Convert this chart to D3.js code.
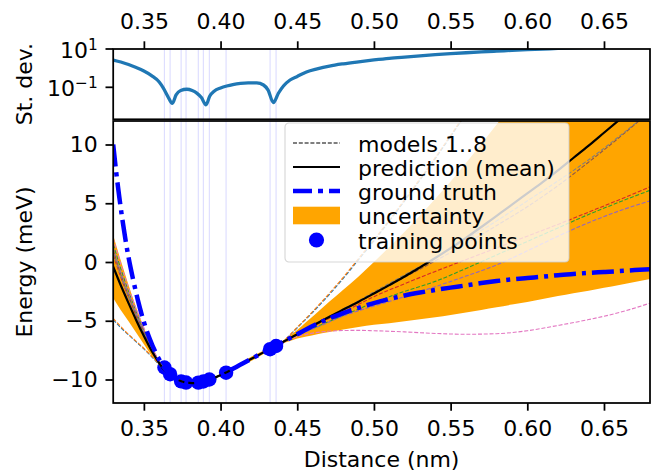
<!DOCTYPE html>
<html>
<head>
<meta charset="utf-8">
<script src="https://cdn.jsdelivr.net/npm/d3@7"></script>
<style>
  body { margin: 0; background: #fff; }
  svg { display: block; }
  text { font-family: "DejaVu Sans", sans-serif; fill: #000; }
</style>
</head>
<body>
<svg id="chart" width="659" height="475"></svg>
<script>
// ---- data -------------------------------------------------------------
// common sampling grid for the ensemble mean and its standard deviation
const gridX = [0.330,0.335,0.340,0.345,0.350,0.355,0.360,0.3627,0.3655,0.3686,0.3710,0.3740,0.3780,0.3815,0.3845,0.3875,0.3905,0.3930,0.3960,0.4000,0.4040,0.4080,0.4130,0.4180,0.4236,0.4280,0.4310,0.4344,0.4377,0.4410,0.4453,0.450,0.456,0.463,0.471,0.480,0.490,0.500,0.510,0.520,0.530,0.540,0.550,0.560,0.570,0.580,0.590,0.600,0.610,0.620,0.630,0.640,0.650,0.660,0.670,0.680];
const meanE = [-0.40,-2.00,-3.50,-4.95,-6.30,-7.55,-8.60,-9.10,-9.45,-9.75,-9.93,-10.13,-10.27,-10.31,-10.29,-10.21,-10.10,-10.00,-9.86,-9.62,-9.38,-9.10,-8.74,-8.39,-8.00,-7.69,-7.48,-7.25,-7.02,-6.79,-6.48,-6.15,-5.72,-5.22,-4.66,-4.05,-3.38,-2.68,-1.97,-1.24,-0.46,0.34,1.18,2.06,2.98,3.93,4.88,5.84,6.80,7.80,8.85,9.90,11.00,12.10,13.20,14.35];
const stdE = [2.67,2.10,1.55,1.08,0.71,0.41,0.19,0.091,0.035,0.0145,0.040,0.068,0.079,0.068,0.050,0.029,0.012,0.035,0.065,0.092,0.117,0.14,0.162,0.172,0.172,0.132,0.072,0.016,0.049,0.117,0.24,0.37,0.63,0.92,1.29,1.69,2.15,2.67,3.25,3.81,4.42,5.04,5.68,6.36,7.06,7.78,8.50,9.24,9.95,10.7,11.5,12.35,13.2,14.05,14.9,15.8];

// reference (ground truth) energy curve
const truthX = [0.330,0.332,0.334,0.336,0.338,0.340,0.343,0.346,0.350,0.354,0.358,0.362,0.366,0.370,0.375,0.380,0.385,0.390,0.395,0.400,0.405,0.410,0.415,0.420,0.425,0.430,0.435,0.440,0.445,0.450,0.460,0.470,0.480,0.490,0.500,0.510,0.520,0.530,0.540,0.550,0.560,0.570,0.580,0.590,0.600,0.610,0.620,0.630,0.640,0.650,0.660,0.670,0.680];
const truthE = [10.0,7.6,5.5,3.6,1.9,0.4,-1.5,-3.2,-5.1,-6.6,-7.8,-8.75,-9.45,-9.9,-10.2,-10.32,-10.28,-10.12,-9.9,-9.62,-9.3,-8.95,-8.6,-8.25,-7.9,-7.55,-7.2,-6.85,-6.5,-6.15,-5.45,-4.85,-4.35,-3.9,-3.5,-3.15,-2.85,-2.6,-2.38,-2.18,-1.99,-1.79,-1.62,-1.48,-1.36,-1.25,-1.12,-1.02,-0.93,-0.85,-0.77,-0.69,-0.62];

// training set
const trainX = [0.3634,0.3671,0.3743,0.3775,0.3855,0.3888,0.3927,0.4036,0.4323,0.4362];
const trainE = [-8.98,-9.55,-10.16,-10.26,-10.27,-10.17,-10.0,-9.42,-7.42,-7.15];

// the eight ensemble members
const modelX = [0.330,0.335,0.340,0.345,0.350,0.355,0.360,0.365,0.370,0.380,0.390,0.400,0.410,0.420,0.430,0.440,0.450,0.460,0.470,0.480,0.490,0.500,0.520,0.540,0.560,0.580,0.600,0.620,0.640,0.660,0.680];
const model1 = [-4.9,-5.6,-6.2,-6.8,-7.4,-8.05,-8.75,-9.45,-9.88,-10.3,-10.13,-9.63,-8.96,-8.26,-7.56,-6.85,-5.6,-4.3,-2.9,-1.4,0.2,1.8,5.2,8.8,12.6,16.5,20.5,24.6,28.8,33.1,37.5];
const model2 = [-4.8,-5.5,-6.15,-6.75,-7.35,-8.0,-8.7,-9.43,-9.87,-10.3,-10.13,-9.63,-8.96,-8.26,-7.55,-6.83,-5.55,-4.22,-2.8,-1.3,0.3,1.9,5.3,8.9,12.7,16.6,20.6,24.7,28.9,33.2,37.6];
const model3 = [1.5,-0.6,-2.5,-4.2,-5.8,-7.2,-8.5,-9.42,-9.86,-10.31,-10.12,-9.62,-8.95,-8.25,-7.55,-6.87,-6.2,-5.65,-5.1,-4.55,-4.0,-3.45,-2.5,-1.65,-0.55,0.6,1.75,2.9,4.05,5.1,6.1];
const model4 = [0.6,-1.3,-3.0,-4.6,-6.0,-7.35,-8.6,-9.44,-9.86,-10.3,-10.12,-9.62,-8.95,-8.25,-7.54,-6.84,-6.15,-5.5,-4.85,-4.25,-3.6,-2.95,-1.85,-0.8,0.2,1.2,2.2,3.2,4.25,5.3,6.4];
const model5 = [1.2,-0.9,-2.7,-4.35,-5.9,-7.3,-8.55,-9.43,-9.85,-10.3,-10.12,-9.62,-8.95,-8.25,-7.55,-6.87,-6.25,-5.7,-5.15,-4.6,-4.15,-3.75,-2.95,-2.1,-1.2,-0.25,0.95,2.2,3.35,4.35,5.2];
const model6 = [1.0,-1.1,-2.9,-4.5,-6.0,-7.35,-8.6,-9.43,-9.86,-10.3,-10.12,-9.62,-8.95,-8.25,-7.54,-6.84,-6.2,-5.5,-4.8,-4.1,-3.4,-2.7,-1.3,0.1,1.55,3.1,4.7,6.5,8.5,10.6,12.8];
const model7 = [2.0,-0.2,-2.2,-4.0,-5.6,-7.1,-8.45,-9.41,-9.85,-10.31,-10.12,-9.62,-8.95,-8.25,-7.56,-6.9,-6.35,-6.05,-5.9,-5.83,-5.82,-5.85,-5.95,-6.08,-6.15,-6.1,-5.85,-5.4,-4.9,-4.3,-3.5];
const model8 = [0.8,-1.2,-3.0,-4.6,-6.1,-7.4,-8.62,-9.44,-9.86,-10.3,-10.12,-9.62,-8.95,-8.25,-7.54,-6.84,-6.15,-5.4,-4.7,-4.0,-3.3,-2.55,-1.1,0.35,1.9,3.5,5.2,6.9,8.7,10.7,12.8];
const models = [model1, model2, model3, model4, model5, model6, model7, model8];
const modelColors = ["#1f77b4","#ff7f0e","#2ca02c","#d62728","#9467bd","#8c564b","#e377c2","#7f7f7f"];

// tick labels
const xTicks = [0.35,0.40,0.45,0.50,0.55,0.60,0.65];
const eTicks = [-10,-5,0,5,10];
const sTicks = [{v: 10, base: "10", sup: "1"}, {v: 0.1, base: "10", sup: "\u22121"}];
const legendLabels = ["models 1..8","prediction (mean)","ground truth","uncertainty","training points"];

// ---- layout -----------------------------------------------------------
const svg = d3.select("#chart");
const W = 659, H = 475;
svg.append("rect").attr("width", W).attr("height", H).attr("fill", "#fff");

const L = 113.2, R = 650;
const topT = 49, topB = 119.3;
const botT = 121, botB = 403;
const FS = 22, TICK = 7.7, SPINE = 1.76;

const x = d3.scaleLinear().domain([0.33, 0.68]).range([L, R]);
const yS = d3.scaleLog().domain([Math.pow(10, -2.67), 10]).range([topB, topT]);
const yE = d3.scaleLinear().domain([-12, 12]).range([botB, botT]);

const defs = svg.append("defs");
defs.append("clipPath").attr("id", "clipTop").append("rect")
  .attr("x", L).attr("y", topT).attr("width", R - L).attr("height", topB - topT);
defs.append("clipPath").attr("id", "clipBot").append("rect")
  .attr("x", L).attr("y", botT).attr("width", R - L).attr("height", botB - botT);

const curve = d3.curveMonotoneX;

// ---- top panel: standard deviation of the ensemble --------------------
const gTop = svg.append("g").attr("clip-path", "url(#clipTop)");
gTop.selectAll("line.train").data(trainX).join("line")
  .attr("x1", d => x(d)).attr("x2", d => x(d))
  .attr("y1", topT).attr("y2", topB)
  .attr("stroke", "blue").attr("stroke-opacity", 0.13).attr("stroke-width", 1.2);
gTop.append("path")
  .datum(gridX.map((v, i) => [v, stdE[i]]))
  .attr("fill", "none").attr("stroke", "#1f77b4").attr("stroke-width", 3.3)
  .attr("stroke-linejoin", "round")
  .attr("d", d3.line().x(d => x(d[0])).y(d => yS(d[1])).curve(curve));

// ---- bottom panel: energy ---------------------------------------------
const gBot = svg.append("g").attr("clip-path", "url(#clipBot)");
gBot.selectAll("line.train").data(trainX).join("line")
  .attr("x1", d => x(d)).attr("x2", d => x(d))
  .attr("y1", botT).attr("y2", botB)
  .attr("stroke", "blue").attr("stroke-opacity", 0.13).attr("stroke-width", 1.2);

// uncertainty band: mean ± std
gBot.append("path")
  .datum(gridX.map((v, i) => ({x: v, lo: meanE[i] - stdE[i], hi: meanE[i] + stdE[i]})))
  .attr("fill", "orange")
  .attr("d", d3.area().x(d => x(d.x)).y0(d => yE(d.lo)).y1(d => yE(d.hi)).curve(curve));

// training points
gBot.selectAll("circle.pt").data(trainX.map((v, i) => [v, trainE[i]])).join("circle")
  .attr("cx", d => x(d[0])).attr("cy", d => yE(d[1])).attr("r", 7.2).attr("fill", "blue");

// ensemble members
models.forEach((m, k) => {
  gBot.append("path")
    .datum(modelX.map((v, i) => [v, m[i]]))
    .attr("fill", "none").attr("stroke", modelColors[k]).attr("stroke-width", 1.1)
    .attr("stroke-dasharray", "4,1.8")
    .attr("d", d3.line().x(d => x(d[0])).y(d => yE(d[1])).curve(curve));
});

// ensemble mean
gBot.append("path")
  .datum(gridX.map((v, i) => [v, meanE[i]]))
  .attr("fill", "none").attr("stroke", "#000").attr("stroke-width", 2.2)
  .attr("d", d3.line().x(d => x(d[0])).y(d => yE(d[1])).curve(curve));

// ground truth
gBot.append("path")
  .datum(truthX.map((v, i) => [v, truthE[i]]))
  .attr("fill", "none").attr("stroke", "blue").attr("stroke-width", 4.5)
  .attr("stroke-dasharray", "22,6,4,6")
  .attr("d", d3.line().x(d => x(d[0])).y(d => yE(d[1])).curve(curve));

// ---- axes --------------------------------------------------------------
const fmtX = d3.format(".2f");
const fmtE = d => d < 0 ? "\u2212" + Math.abs(d) : String(d);

function styleAxis(g) {
  g.select(".domain").remove();
  g.selectAll(".tick line").attr("stroke", "#000").attr("stroke-width", 1.76);
  g.selectAll(".tick text").attr("font-size", FS).attr("font-family", "DejaVu Sans, sans-serif").attr("fill", "#000");
}

svg.append("g").attr("transform", `translate(0,${topT})`)
  .call(d3.axisTop(x).tickValues(xTicks).tickFormat(fmtX).tickSize(TICK).tickPadding(12.7))
  .call(styleAxis);

svg.append("g").attr("transform", `translate(0,${botB})`)
  .call(d3.axisBottom(x).tickValues(xTicks).tickFormat(fmtX).tickSize(TICK).tickPadding(9.5))
  .call(styleAxis);

svg.append("g").attr("transform", `translate(${L},0)`)
  .call(d3.axisLeft(yE).tickValues(eTicks).tickFormat(fmtE).tickSize(TICK).tickPadding(7.7))
  .call(styleAxis);

// log-axis ticks with superscript exponents
const gS = svg.append("g");
sTicks.forEach(t => {
  const yy = yS(t.v);
  gS.append("line").attr("x1", L - TICK).attr("x2", L).attr("y1", yy).attr("y2", yy)
    .attr("stroke", "#000").attr("stroke-width", 1.76);
  const txt = gS.append("text").attr("x", L - TICK - 7.7).attr("y", yy + 8.5)
    .attr("text-anchor", "end").attr("font-size", FS);
  txt.append("tspan").text(t.base);
  txt.append("tspan").attr("dy", -8).attr("font-size", FS * 0.7).text(t.sup);
});

// frames
svg.append("rect").attr("x", L).attr("y", topT).attr("width", R - L).attr("height", topB - topT)
  .attr("fill", "none").attr("stroke", "#000").attr("stroke-width", SPINE);
svg.append("rect").attr("x", L).attr("y", botT).attr("width", R - L).attr("height", botB - botT)
  .attr("fill", "none").attr("stroke", "#000").attr("stroke-width", SPINE);

// axis titles
svg.append("text").attr("x", (L + R) / 2).attr("y", 467).attr("text-anchor", "middle")
  .attr("font-size", FS).text("Distance (nm)");
svg.append("text").attr("transform", `translate(32,${(botT + botB) / 2}) rotate(-90)`)
  .attr("text-anchor", "middle").attr("font-size", FS).text("Energy (meV)");
svg.append("text").attr("transform", `translate(32,${(topT + topB) / 2}) rotate(-90)`)
  .attr("text-anchor", "middle").attr("font-size", FS).text("St. dev.");

// ---- legend ------------------------------------------------------------
const lg = svg.append("g").attr("transform", "translate(285,123)");
lg.append("rect").attr("width", 284).attr("height", 139).attr("rx", 4)
  .attr("fill", "#fff").attr("fill-opacity", 0.8)
  .attr("stroke", "#ccc").attr("stroke-opacity", 0.8).attr("stroke-width", 1.1);
const rowY = [20, 44, 68, 92.5, 117];
const hx0 = 8, hx1 = 55;
lg.append("line").attr("x1", hx0).attr("x2", hx1).attr("y1", rowY[0]).attr("y2", rowY[0])
  .attr("stroke", "#000").attr("stroke-width", 1.1).attr("stroke-dasharray", "4,1.8");
lg.append("line").attr("x1", hx0).attr("x2", hx1).attr("y1", rowY[1]).attr("y2", rowY[1])
  .attr("stroke", "#000").attr("stroke-width", 2.2);
lg.append("line").attr("x1", hx0).attr("x2", hx1).attr("y1", rowY[2]).attr("y2", rowY[2])
  .attr("stroke", "blue").attr("stroke-width", 4.5).attr("stroke-dasharray", "19,6,5,6");
lg.append("rect").attr("x", hx0).attr("y", rowY[3] - 8.8).attr("width", hx1 - hx0).attr("height", 17.6)
  .attr("fill", "orange");
lg.append("circle").attr("cx", (hx0 + hx1) / 2).attr("cy", rowY[4]).attr("r", 7.6).attr("fill", "blue");
lg.selectAll("text.lab").data(legendLabels).join("text")
  .attr("x", 73).attr("y", (d, i) => rowY[i] + 8.5)
  .attr("font-size", FS).text(d => d);
</script>
</body>
</html>
